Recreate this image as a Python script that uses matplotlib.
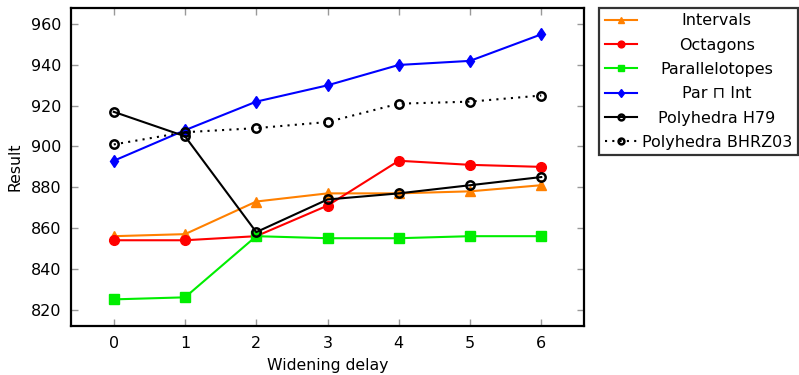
import matplotlib
matplotlib.use("Agg")
import matplotlib.pyplot as plt

delays = [0, 1, 2, 3, 4, 5, 6]
intervals = [856, 857, 873, 877, 877, 878, 881]
octagons = [854, 854, 856, 871, 893, 891, 890]
parallelotopes = [825, 826, 856, 855, 855, 856, 856]
par_int = [893, 908, 922, 930, 940, 942, 955]
poly_h79 = [917, 905, 858, 874, 877, 881, 885]
poly_bhrz03 = [901, 907, 909, 912, 921, 922, 925]
yticks = [820, 840, 860, 880, 900, 920, 940, 960]

plt.rcParams['font.family'] = ['DejaVu Sans']
fig = plt.figure(figsize=(7.99, 3.75), dpi=100)
ax = fig.add_axes([0.0889, 0.131, 0.642, 0.848])

lw = 1.5
ax.plot(delays, intervals, color='#ff8000', marker='^', ms=6.5, lw=lw, label='Intervals')
ax.plot(delays, octagons, color='#ff0000', marker='o', ms=7, lw=lw, label='Octagons')
ax.plot(delays, parallelotopes, color='#00ee00', marker='s', ms=6.5, lw=lw, label='Parallelotopes')
ax.plot(delays, par_int, color='#0000ff', marker='d', ms=6.5, lw=lw, label='Par \u2293 Int')
ax.plot(delays, poly_h79, color='black', marker='o', ms=6, mfc='none', mew=1.8, lw=lw, label='Polyhedra H79')
ax.plot(delays, poly_bhrz03, color='black', marker='o', ms=6, mfc='none', mew=1.8, lw=lw, ls=(0, (1, 2.5)), label='Polyhedra BHRZ03')

ax.set_xlim(-0.6, 6.6)
ax.set_ylim(812, 968)
ax.set_xticks(delays)
ax.set_yticks(yticks)
ax.tick_params(direction='in', top=True, right=True, length=5, width=1, color='#999999',
               labelsize=11.5, pad=7)
for s in ax.spines.values():
    s.set_linewidth(1.6)
ax.set_xlabel('Widening delay', fontsize=11.3, labelpad=5)
ax.set_ylabel('Result', fontsize=11.3, labelpad=6)

leg = ax.legend(loc='upper left', bbox_to_anchor=(1.03, 1.0), frameon=True, fancybox=False,
                edgecolor='black', fontsize=11.5, handlelength=2.0, borderaxespad=0,
                labelspacing=0.58, handletextpad=0.3, markerscale=0.7, borderpad=0.35)
leg.get_frame().set_linewidth(1.6)

# Center the legend labels within their column, as in the reference
fig.canvas.draw()
renderer = fig.canvas.get_renderer()
inv = fig.transFigure.inverted()
exts = [t.get_window_extent(renderer) for t in leg.get_texts()]
x0 = min(e.x0 for e in exts)
maxw = max(e.width for e in exts)
cx = x0 + maxw / 2
for t, e in zip(leg.get_texts(), exts):
    fx, fy = inv.transform((cx, (e.y0 + e.y1) / 2))
    fig.text(fx, fy, t.get_text(), ha='center', va='center', fontsize=11.5)
    t.set_alpha(0)

fig.savefig('out.png', dpi=100)
